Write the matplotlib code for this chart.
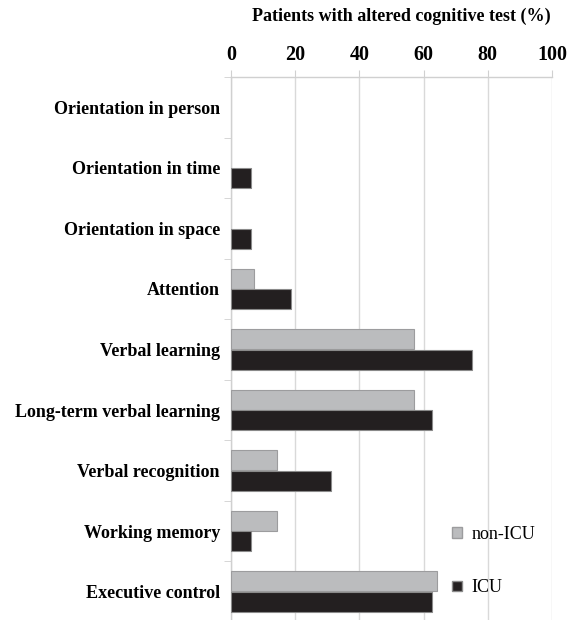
import matplotlib
matplotlib.use("Agg")
import matplotlib.pyplot as plt
import numpy as np
from matplotlib.patches import Patch

categories = ["Orientation in person", "Orientation in time", "Orientation in space",
              "Attention", "Verbal learning", "Long-term verbal learning",
              "Verbal recognition", "Working memory", "Executive control"]
non_icu = [0, 0, 0, 7.1, 57.1, 57.1, 14.3, 14.3, 64.3]
icu = [0, 6.25, 6.25, 18.75, 75.0, 62.5, 31.25, 6.25, 62.5]
xticks = [0, 20, 40, 60, 80, 100]

plt.rcParams['font.family'] = ['Liberation Serif', 'DejaVu Serif']

fig = plt.figure(figsize=(5.78, 6.2), dpi=100)
ax = fig.add_axes([231/578, -2/620, 321/578, 545/620])

y = np.arange(len(categories))
h = 0.33
ax.barh(y - 0.17, non_icu, height=h, color='#bbbcbe', edgecolor='#9c9c9e',
        linewidth=[0.8 if v > 0 else 0 for v in non_icu], label='non-ICU', zorder=3)
ax.barh(y + 0.17, icu, height=h, color='#231f20', edgecolor='#8a8a8a',
        linewidth=[0.8 if v > 0 else 0 for v in icu], label='ICU', zorder=3)

ax.set_xlim(0, 100)
ax.set_ylim(len(categories) - 0.5, -0.5)
ax.xaxis.tick_top()
ax.set_xticks(xticks)
ax.set_xticklabels([str(v) for v in xticks], fontsize=14.5, fontweight='bold')
ax.tick_params(axis='x', length=5, color='#d0d0d0', pad=4)
ax.grid(axis='x', color='#d9d9d9', linewidth=1.0, zorder=0)

ax.set_yticks(y)
ax.set_yticklabels(categories, fontsize=13, fontweight='bold')
ax.tick_params(axis='y', which='major', length=0, pad=8)
ax.set_yticks(np.arange(len(categories) + 1) - 0.5, minor=True)
ax.tick_params(axis='y', which='minor', length=5, color='#d0d0d0')

for s in ['right', 'bottom']:
    ax.spines[s].set_visible(False)
for s in ['left', 'top']:
    ax.spines[s].set_color('#d0d0d0')
    ax.spines[s].set_linewidth(1.0)

fig.text(401/578, 1 - 16.5/620, "Patients with altered cognitive test (%)", ha='center', va='center',
         fontsize=13, fontweight='bold')

handles = [Patch(facecolor='#bbbcbe', edgecolor='#9c9c9e', label='non-ICU'),
           Patch(facecolor='#231f20', edgecolor='#8a8a8a', label='ICU')]
fig.legend(handles=handles, loc='upper left', bbox_to_anchor=(436/578, 1 - 510/620), frameon=False,
           fontsize=13, labelspacing=2.0, handlelength=0.55, handleheight=0.55, handletextpad=0.5)

fig.savefig("out.png", dpi=100, facecolor='white')
